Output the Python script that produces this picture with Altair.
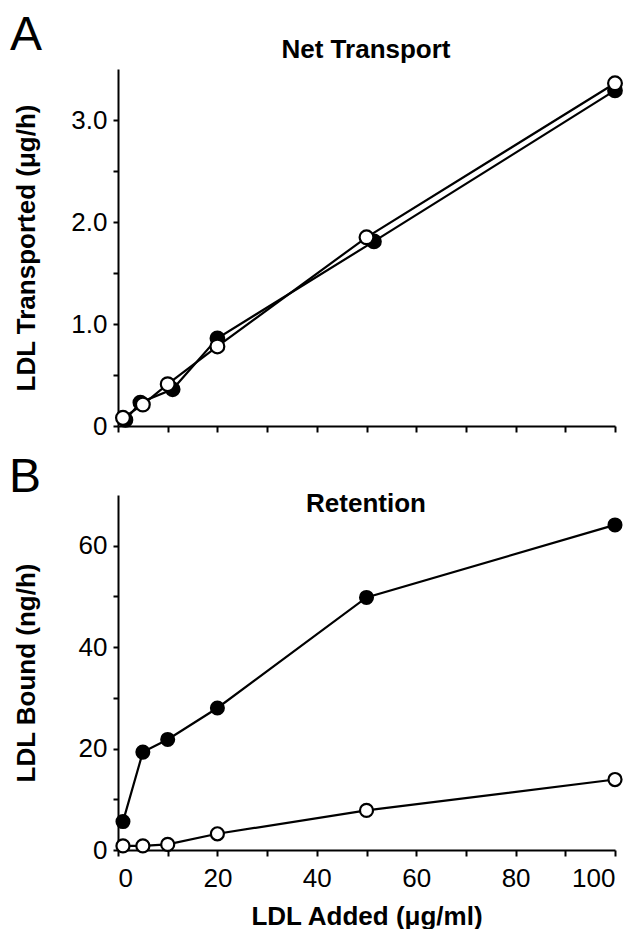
import altair as alt
import pandas as pd

# ---- data ----
# Panel A: Net Transport (ug/h)
a_open_x = [1, 5, 10, 20, 50, 100]
a_open_y = [0.08, 0.21, 0.41, 0.78, 1.85, 3.36]
a_fill_x = [1.5, 4.5, 11, 20, 51.5, 100]
a_fill_y = [0.06, 0.23, 0.36, 0.86, 1.81, 3.29]

# Panel B: Retention (ng/h)
b_fill_x = [1, 5, 10, 20, 50, 100]
b_fill_y = [5.6, 19.3, 21.8, 28.0, 49.8, 64.1]
b_open_x = [1, 5, 10, 20, 50, 100]
b_open_y = [0.8, 0.8, 1.1, 3.2, 7.8, 13.9]

FONT = "Liberation Sans"


def frame(xs, ys):
    return pd.DataFrame({"x": xs, "y": ys})


def panel(fill_df, open_df, ydomain, yvalues, ylabelexpr, ytitle, xlabels,
          title_text, title_y, letter, letter_x, letter_y, height, psize):
    xaxis = alt.Axis(
        values=list(range(0, 101, 10)),
        labels=xlabels,
        labelExpr="datum.value % 20 == 0 ? datum.label : ''",
        title="LDL Added (\u03bcg/ml)" if xlabels else None,
        titlePadding=12,
        labelPadding=9,
        tickSize=6,
    )
    yaxis = alt.Axis(
        values=yvalues,
        labelExpr=ylabelexpr,
        title=ytitle,
        titleX=-84,
        titleAngle=270,
        titleBaseline="alphabetic",
        tickSize=5,
        labelPadding=6,
    )
    x = alt.X("x:Q", scale=alt.Scale(domain=[0, 100], nice=False), axis=xaxis)
    y = alt.Y("y:Q", scale=alt.Scale(domain=ydomain, nice=False), axis=yaxis)

    fline = alt.Chart(fill_df).mark_line(color="black", strokeWidth=2.2).encode(x=x, y=y)
    fpts = alt.Chart(fill_df).mark_point(
        shape="circle", filled=True, fill="black", stroke="black",
        strokeWidth=2, size=psize, opacity=1
    ).encode(x=x, y=y)
    oline = alt.Chart(open_df).mark_line(color="black", strokeWidth=2.2).encode(x=x, y=y)
    opts = alt.Chart(open_df).mark_point(
        shape="circle", filled=True, fill="white", stroke="black",
        strokeWidth=2.2, size=psize, opacity=1
    ).encode(x=x, y=y)

    ttl = alt.Chart(pd.DataFrame({"t": [title_text]})).mark_text(
        font=FONT, fontSize=26, fontWeight="bold", color="black",
        align="center", baseline="alphabetic"
    ).encode(text="t:N", x=alt.value(248), y=alt.value(title_y))
    let = alt.Chart(pd.DataFrame({"t": [letter]})).mark_text(
        font=FONT, fontSize=48, fontWeight="normal", color="black",
        align="left", baseline="top"
    ).encode(text="t:N", x=alt.value(letter_x), y=alt.value(letter_y))

    return alt.layer(fline, fpts, oline, opts, ttl, let).properties(
        width=497, height=height
    )


pa = panel(
    frame(a_fill_x, a_fill_y), frame(a_open_x, a_open_y),
    [0, 3.5], [0, 0.5, 1, 1.5, 2, 2.5, 3],
    "datum.value == 0 ? '0' : (datum.value % 1 == 0 ? format(datum.value, '.1f') : '')",
    "LDL Transported (\u03bcg/h)", False,
    "Net Transport", -11, "A", -108, -57, 357, 190,
)
pb = panel(
    frame(b_fill_x, b_fill_y), frame(b_open_x, b_open_y),
    [0, 70], [0, 10, 20, 30, 40, 50, 60],
    "datum.value % 20 == 0 ? datum.label : ''",
    "LDL Bound (ng/h)", True,
    "Retention", 17, "B", -109, -41, 355, 170,
)

chart = alt.vconcat(pa, pb, spacing=69, bounds="flush").properties(
    padding={"left": 1, "top": 4, "right": 0, "bottom": 0}
).configure_view(stroke=None).configure_axis(
    grid=False,
    domainColor="black",
    domainWidth=2,
    tickColor="black",
    tickWidth=2,
    labelFont=FONT,
    labelFontSize=26,
    labelColor="black",
    titleFont=FONT,
    titleFontSize=26,
    titleFontWeight="bold",
    titleColor="black",
)

chart.save("out.html", embed_options={"renderer": "svg", "actions": False})
